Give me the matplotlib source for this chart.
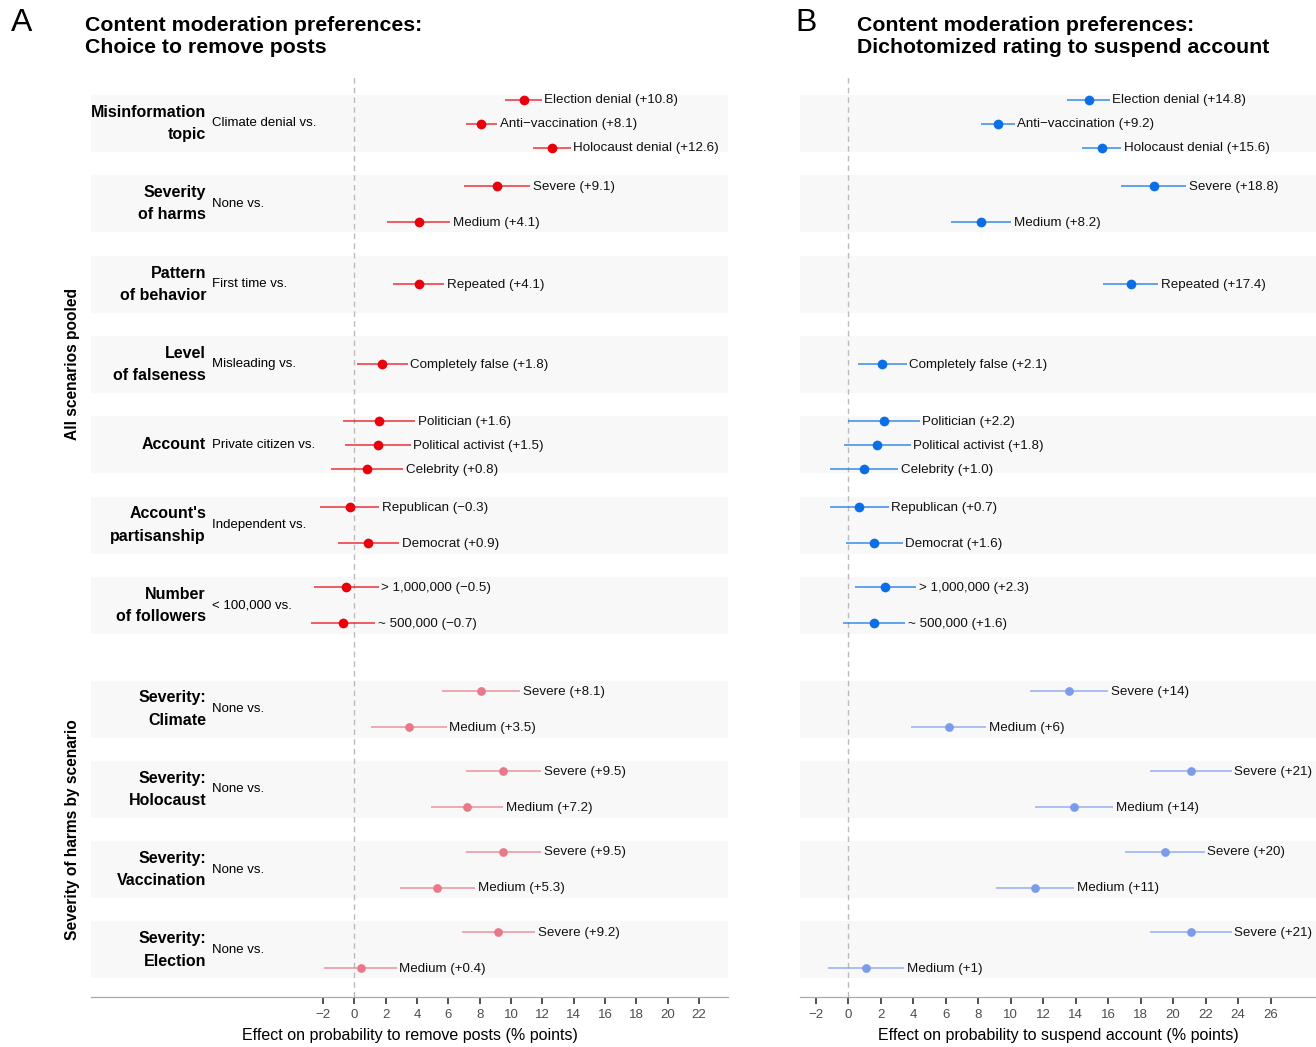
import matplotlib
matplotlib.use("Agg")
import matplotlib.pyplot as plt
import matplotlib.transforms as mtransforms

plt.rcParams['font.family'] = ['Liberation Sans', 'DejaVu Sans']

# ---- data -------------------------------------------------------------
group_names = ["Misinformation\ntopic", "Severity\nof harms", "Pattern\nof behavior",
               "Level\nof falseness", "Account", "Account's\npartisanship",
               "Number\nof followers", "Severity:\nClimate", "Severity:\nHolocaust",
               "Severity:\nVaccination", "Severity:\nElection"]
baselines = ["Climate denial vs.", "None vs.", "First time vs.", "Misleading vs.",
             "Private citizen vs.", "Independent vs.", "< 100,000 vs.",
             "None vs.", "None vs.", "None vs.", "None vs."]
levels = [["Election denial", "Anti\u2212vaccination", "Holocaust denial"],
          ["Severe", "Medium"],
          ["Repeated"],
          ["Completely false"],
          ["Politician", "Political activist", "Celebrity"],
          ["Republican", "Democrat"],
          ["> 1,000,000", "~ 500,000"],
          ["Severe", "Medium"], ["Severe", "Medium"], ["Severe", "Medium"], ["Severe", "Medium"]]

# panel A: remove posts
remove_est = [[10.8, 8.1, 12.6], [9.1, 4.1], [4.1], [1.8], [1.6, 1.5, 0.8], [-0.3, 0.9],
              [-0.5, -0.7], [8.1, 3.5], [9.5, 7.2], [9.5, 5.3], [9.2, 0.4]]
remove_ci = [[1.15, 1.0, 1.2], [2.1, 2.0], [1.65], [1.6], [2.3, 2.1, 2.3], [1.9, 1.95],
             [2.05, 2.05], [2.5, 2.4], [2.4, 2.3], [2.4, 2.4], [2.35, 2.3]]
remove_txt = [["+10.8", "+8.1", "+12.6"], ["+9.1", "+4.1"], ["+4.1"], ["+1.8"],
              ["+1.6", "+1.5", "+0.8"], ["\u22120.3", "+0.9"], ["\u22120.5", "\u22120.7"],
              ["+8.1", "+3.5"], ["+9.5", "+7.2"], ["+9.5", "+5.3"], ["+9.2", "+0.4"]]

# panel B: suspend account
suspend_est = [[14.8, 9.2, 15.6], [18.8, 8.2], [17.4], [2.1], [2.2, 1.8, 1.0], [0.7, 1.6],
               [2.3, 1.6], [13.6, 6.2], [21.1, 13.9], [19.5, 11.5], [21.1, 1.1]]
suspend_ci = [[1.3, 1.05, 1.2], [2.0, 1.85], [1.7], [1.5], [2.2, 2.05, 2.1], [1.8, 1.75],
              [1.9, 1.9], [2.4, 2.3], [2.5, 2.4], [2.45, 2.4], [2.5, 2.35]]
suspend_txt = [["+14.8", "+9.2", "+15.6"], ["+18.8", "+8.2"], ["+17.4"], ["+2.1"],
               ["+2.2", "+1.8", "+1.0"], ["+0.7", "+1.6"], ["+2.3", "+1.6"],
               ["+14", "+6"], ["+21", "+14"], ["+20", "+11"], ["+21", "+1"]]

facets = ["All scenarios pooled", "Severity of harms by scenario"]
n_pooled = 7

# ---- layout helpers ---------------------------------------------------
def group_center(g):
    c = 123.5 + 80.3 * g
    if g >= n_pooled:
        c += 23.4
    return c

def row_offsets(n):
    if n == 3:
        return [-24, 0, 24]
    if n == 2:
        return [-18, 18]
    return [0]

fig = plt.figure(figsize=(13.16, 10.47), dpi=100)
W, H = 1316, 1047
axA = fig.add_axes([91 / W, 1 - 997 / H, (728 - 91) / W, (997 - 75) / H])
axB = fig.add_axes([800 / W, 1 - 997 / H, (1316 - 800) / W, (997 - 75) / H])


def draw_panel(ax, est, ci, txt, xlim, xticks, cols, xlabel):
    ax.set_xlim(*xlim)
    ax.set_ylim(997, 75)
    for g in range(len(group_names)):
        c = group_center(g)
        ax.axhspan(c - 28.5, c + 28.5, color="#f8f8f8", lw=0, zorder=0)
        col = cols[0] if g < n_pooled else cols[1]
        for k, off in enumerate(row_offsets(len(levels[g]))):
            y = c + off
            e, h = est[g][k], ci[g][k]
            ax.plot([e - h, e + h], [y, y], color=col, lw=1.1, alpha=0.8,
                    solid_capstyle="butt", zorder=2)
            ax.plot(e, y, "o", color=col, ms=7 if g < n_pooled else 6.3,
                    mec="none", zorder=3)
            ax.annotate(f"{levels[g][k]} ({txt[g][k]})", (e + h, y + 0.8), xytext=(2, 0),
                        textcoords="offset points", va="center", ha="left",
                        fontsize=9.6, color="#111111")
    ax.axvline(0, color="#bbbbbb", lw=1, ls=(0, (4, 3)), zorder=1)
    for s in ["top", "right", "left"]:
        ax.spines[s].set_visible(False)
    ax.spines["bottom"].set_color("#aaaaaa")
    ax.spines["bottom"].set_linewidth(0.9)
    ax.set_yticks([])
    ax.set_xticks(xticks)
    ax.tick_params(axis="x", length=5, width=1.2, color="#333333",
                   labelsize=9.5, labelcolor="#4d4d4d", pad=4)
    ax.set_xlabel(xlabel, fontsize=11.5, labelpad=5)


draw_panel(axA, remove_est, remove_ci, remove_txt, (-16.8, 23.85), range(-2, 23, 2),
           ["#e8000b", "#e8798a"], "Effect on probability to remove posts (% points)")
draw_panel(axB, suspend_est, suspend_ci, suspend_txt, (-2.96, 28.8), range(-2, 27, 2),
           ["#0a6fe6", "#7c9ceb"], "Effect on probability to suspend account (% points)")

# group labels on the left panel
trans = mtransforms.blended_transform_factory(axA.transAxes, axA.transData)
for g in range(len(group_names)):
    c = group_center(g)
    axA.text((206 - 91) / 637, c, group_names[g], transform=trans, ha="right",
             va="center", fontsize=11.5, fontweight="bold", linespacing=1.6)
    axA.text((212 - 91) / 637, c, baselines[g], transform=trans, ha="left",
             va="center", fontsize=9.5)

# facet strip labels
top1, bot1 = group_center(0) - 28.5, group_center(n_pooled - 1) + 28.5
top2, bot2 = group_center(n_pooled) - 28.5, group_center(len(group_names) - 1) + 28.5
axA.text((72 - 91) / 637, (top1 + bot1) / 2, facets[0], transform=trans, rotation=90,
         ha="center", va="center", fontsize=11.2, fontweight="bold")
axA.text((72 - 91) / 637, (top2 + bot2) / 2, facets[1], transform=trans, rotation=90,
         ha="center", va="center", fontsize=11.2, fontweight="bold")

# titles
fig.text(11 / W, 1 - 23 / H, "A", fontsize=23, va="center", ha="left")
fig.text(795 / W, 1 - 23 / H, "B", fontsize=23, va="center", ha="left")
fig.text(85 / W, 1 - 16 / H, "Content moderation preferences:\nChoice to remove posts",
         fontsize=15.3, fontweight="bold", va="top", ha="left", linespacing=1.22)
fig.text(857 / W, 1 - 16 / H,
         "Content moderation preferences:\nDichotomized rating to suspend account",
         fontsize=15.3, fontweight="bold", va="top", ha="left", linespacing=1.22)

fig.savefig("out.png", dpi=100)
